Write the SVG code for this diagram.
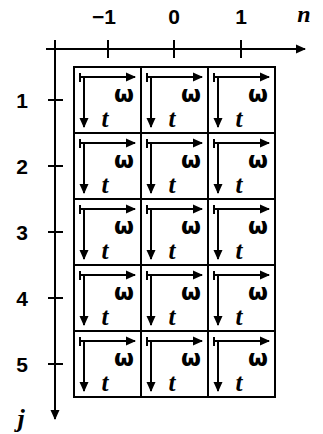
<svg xmlns="http://www.w3.org/2000/svg" width="323" height="434" viewBox="0 0 323 434">
<style>
.ln{stroke:#000;stroke-width:2;fill:none}
.lbl{font-family:"Liberation Sans",Arial,sans-serif;font-weight:bold;font-size:21px;text-anchor:middle;fill:#000}
.it{font-family:"Liberation Serif","Times New Roman",serif;font-style:italic;font-weight:bold;fill:#000}
.om{font-family:"DejaVu Sans",sans-serif;font-weight:bold;font-size:23px;text-anchor:middle;fill:#000}
.cellb{stroke:#000;stroke-width:2;fill:#fff}
</style>
<defs>
<marker id="ah" viewBox="0 0 10 10" refX="9" refY="5" markerWidth="10" markerHeight="10" orient="auto" markerUnits="userSpaceOnUse">
<path d="M0,0.5 L10,5 L0,9.5 z" fill="#000"/>
</marker>
<g id="cellc">
<rect x="0" y="0" width="67" height="66" class="cellb"/>
<line x1="6" y1="6" x2="6" y2="15" class="ln" stroke-width="1.5"/>
<line x1="6" y1="10" x2="61" y2="10" class="ln" marker-end="url(#ah)"/>
<line x1="10" y1="9" x2="10" y2="60" class="ln" marker-end="url(#ah)"/>
<text x="50" y="35" class="om">ω</text>
<text x="31" y="60" class="it" font-size="25" text-anchor="middle">t</text>
</g>
</defs>
<g id="axes">
<line x1="46" y1="49" x2="305" y2="49" class="ln" marker-end="url(#ah)"/>
<line x1="55" y1="40" x2="55" y2="419" class="ln" marker-end="url(#ah)"/>
<line x1="108" y1="40" x2="108" y2="58" class="ln"/>
<line x1="174" y1="40" x2="174" y2="58" class="ln"/>
<line x1="241" y1="40" x2="241" y2="58" class="ln"/>
<line x1="48" y1="100" x2="63" y2="100" class="ln"/>
<line x1="48" y1="166" x2="63" y2="166" class="ln"/>
<line x1="48" y1="232" x2="63" y2="232" class="ln"/>
<line x1="48" y1="298" x2="63" y2="298" class="ln"/>
<line x1="48" y1="364" x2="63" y2="364" class="ln"/>
</g>
<g id="labels">
<text x="104" y="24" class="lbl">−1</text>
<text x="174" y="24" class="lbl">0</text>
<text x="241" y="24" class="lbl">1</text>
<text x="304" y="22" class="it" font-size="24" text-anchor="middle">n</text>
<text x="22" y="108" class="lbl">1</text>
<text x="22" y="174" class="lbl">2</text>
<text x="22" y="240" class="lbl">3</text>
<text x="22" y="306" class="lbl">4</text>
<text x="22" y="372" class="lbl">5</text>
<text x="21" y="427" class="it" font-size="26" text-anchor="middle">j</text>
</g>
<g id="grid">
<use href="#cellc" x="74" y="67"/><use href="#cellc" x="141" y="67"/><use href="#cellc" x="208" y="67"/>
<use href="#cellc" x="74" y="133"/><use href="#cellc" x="141" y="133"/><use href="#cellc" x="208" y="133"/>
<use href="#cellc" x="74" y="199"/><use href="#cellc" x="141" y="199"/><use href="#cellc" x="208" y="199"/>
<use href="#cellc" x="74" y="265"/><use href="#cellc" x="141" y="265"/><use href="#cellc" x="208" y="265"/>
<use href="#cellc" x="74" y="331"/><use href="#cellc" x="141" y="331"/><use href="#cellc" x="208" y="331"/>
</g>
</svg>
